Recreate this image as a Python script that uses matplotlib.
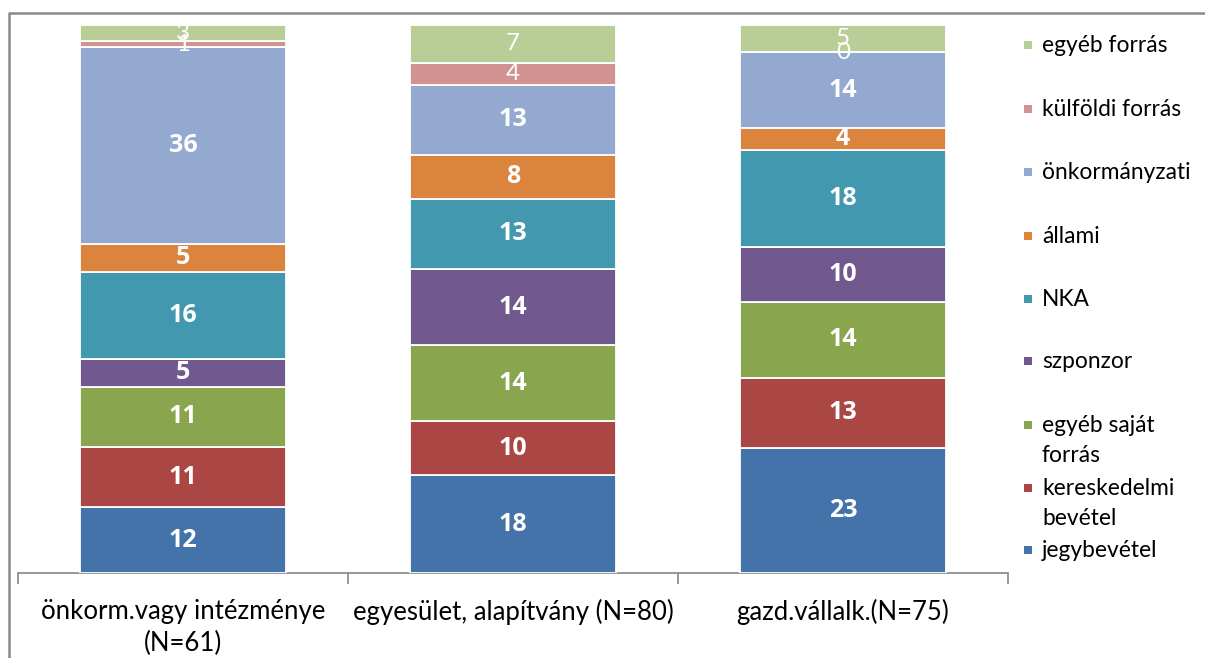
import matplotlib
matplotlib.use("Agg")
import matplotlib.pyplot as plt
import numpy as np
from matplotlib.patches import Rectangle
from matplotlib.lines import Line2D

categories = ["önkorm.vagy intézménye\n(N=61)", "egyesület, alapítvány (N=80)", "gazd.vállalk.(N=75)"]
series_names = ["jegybevétel", "kereskedelmi\nbevétel", "egyéb saját\nforrás", "szponzor", "NKA",
                "állami", "önkormányzati", "külföldi forrás", "egyéb forrás"]
jegybevetel = [12, 18, 23]
kereskedelmi = [11, 10, 13]
egyeb_sajat = [11, 14, 14]
szponzor = [5, 14, 10]
nka = [16, 13, 18]
allami = [5, 8, 4]
onkormanyzati = [36, 13, 14]
kulfoldi = [1, 4, 0]
egyeb_forras = [3, 7, 5]

series = [jegybevetel, kereskedelmi, egyeb_sajat, szponzor, nka, allami, onkormanyzati, kulfoldi, egyeb_forras]
colors = ["#4473A9", "#AA4643", "#89A54E", "#71588F", "#4198AF", "#DB843D", "#93A9CF", "#D19392", "#B9CD96"]
bold_labels = [True, True, True, True, True, True, True, False, False]

plt.rcParams['font.family'] = ['Lato', 'DejaVu Sans']

W, H = 1205, 658
fig = plt.figure(figsize=(W / 100, H / 100), dpi=100)
ax = fig.add_axes([18 / W, 1 - 573 / H, 990 / W, 548 / H])

data = np.array(series, dtype=float)
totals = data.sum(axis=0)
pct = data / totals * 100
x = np.arange(len(categories))
bottom = np.zeros(len(categories))
for i in range(len(series)):
    ax.bar(x, pct[i], 0.625, bottom=bottom, color=colors[i], edgecolor="white", linewidth=1.3, zorder=3)
    for j in range(len(categories)):
        if bold_labels[i]:
            ax.text(x[j], bottom[j] + pct[i][j] / 2, f"{data[i][j]:g}", ha="center", va="center",
                    color="white", fontsize=18, fontweight="bold", family=["Open Sans", "DejaVu Sans"],
                    zorder=4)
        else:
            ax.text(x[j], bottom[j] + pct[i][j] / 2, f"{data[i][j]:g}", ha="center", va="center",
                    color="white", fontsize=17.5, fontweight="normal", zorder=4)
    bottom += pct[i]

ax.set_xlim(-0.5, 2.5)
ax.set_ylim(0, 100)
ax.set_yticks([])
for s in ["top", "right", "left"]:
    ax.spines[s].set_visible(False)
ax.spines["bottom"].set_color("#868686")
ax.spines["bottom"].set_linewidth(1.2)
ax.set_xticks(x)
ax.set_xticklabels(categories, fontsize=18.5, color="black", linespacing=1.32)
ax.tick_params(axis="x", which="major", length=0, pad=19)
ax.set_xticks([-0.5, 0.5, 1.5, 2.5], minor=True)
ax.tick_params(axis="x", which="minor", length=8, width=1.2, color="#868686", direction="out")

# outer chart frame (cropped at right and bottom)
fig.add_artist(Line2D([9 / W, 9 / W, 1.0], [0.0, 1 - 13 / H, 1 - 13 / H], transform=fig.transFigure,
                      color="#898989", linewidth=1.8))

# legend (reverse order, as in reference)
legend_y = [550, 488, 425, 361, 299, 236, 172, 109, 45]
for i in range(len(series)):
    yc = legend_y[i]
    fig.add_artist(Rectangle((1024 / W, 1 - (yc + 4) / H), 8 / W, 8 / H, transform=fig.transFigure,
                             facecolor=colors[i], edgecolor="none"))
    fig.text(1042 / W, 1 - (yc - 10) / H, series_names[i], ha="left", va="top", fontsize=16.4,
             linespacing=1.55, color="black")

fig.savefig("out.png", dpi=100)
